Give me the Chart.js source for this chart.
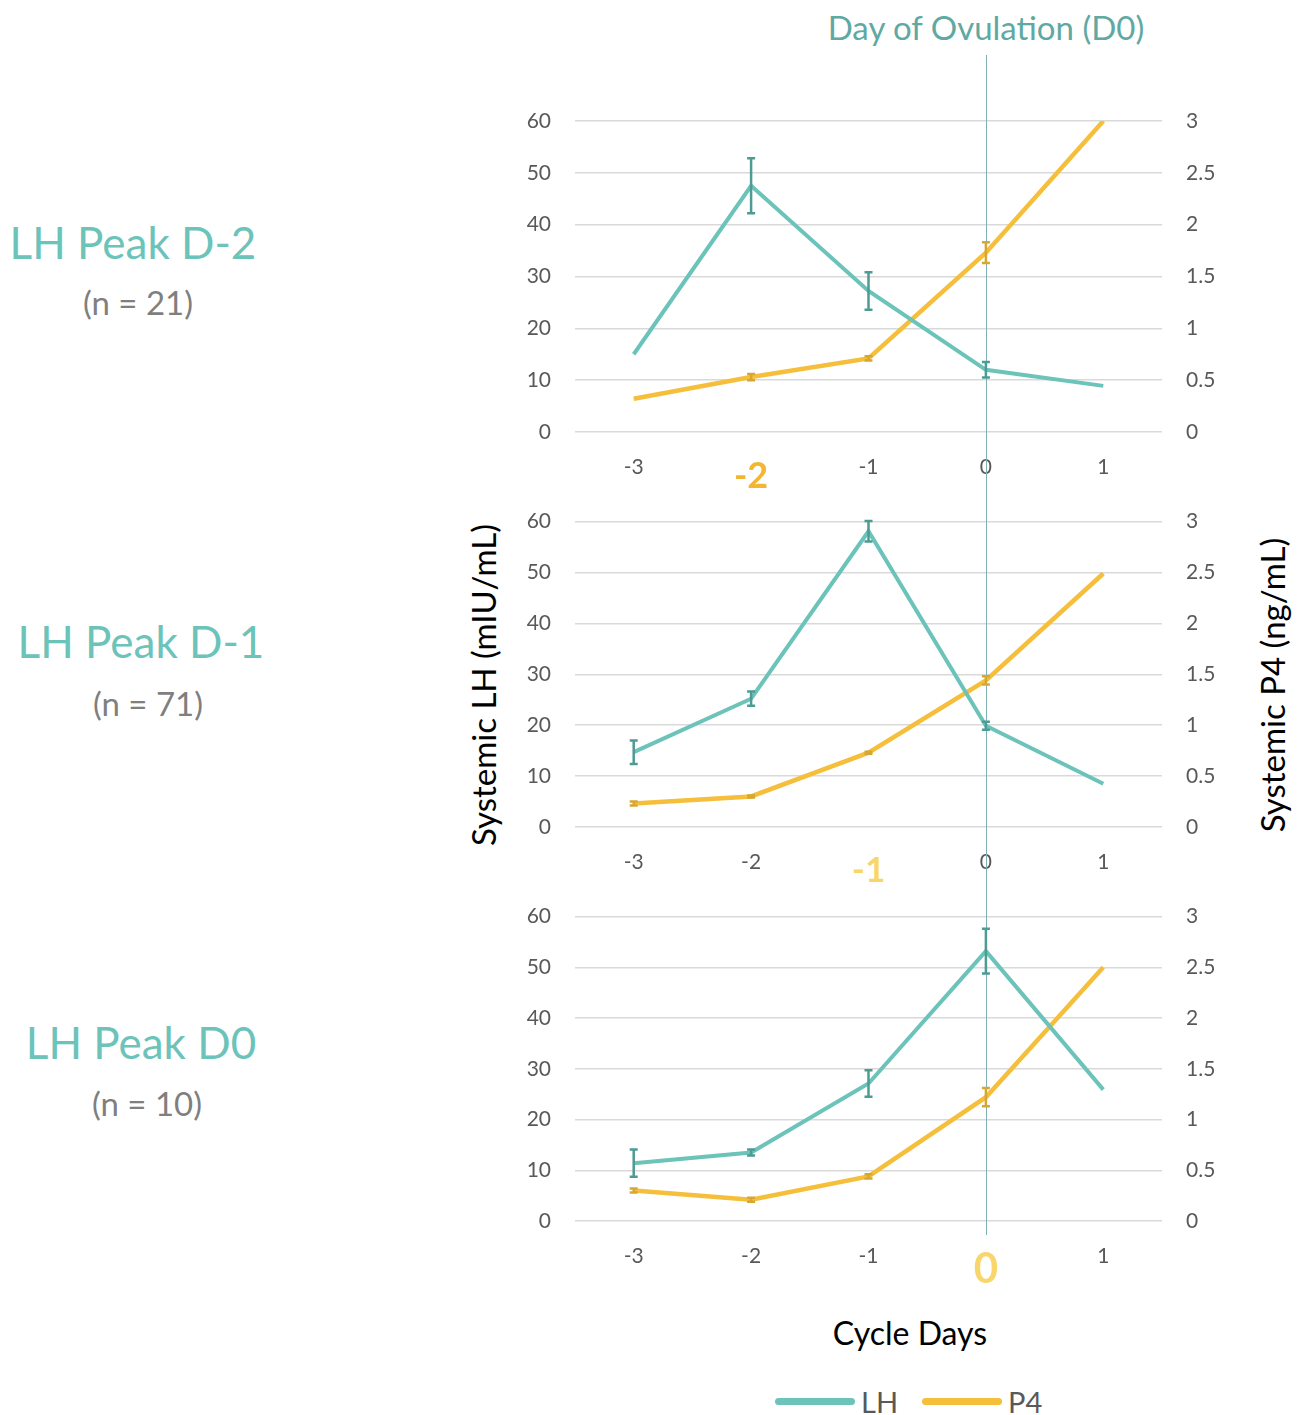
<!DOCTYPE html>
<html>
<head>
<meta charset="utf-8">
<script src="https://cdn.jsdelivr.net/npm/chart.js@4.4.1/dist/chart.umd.min.js"></script>
<style>
  body { margin: 0; background: #fff; font-family: Lato, "Open Sans", sans-serif; }
  #page { position: relative; width: 1298px; height: 1415px; overflow: hidden; }
  .box { position: absolute; left: 500px; width: 740px; }
  .lbl { position: absolute; white-space: nowrap; transform: translate(-50%, -50%); }
  .peak { font-size: 44px; color: #6cc3ba; }
  .n { font-size: 33px; color: #7f7f7f; }
  .rot { position: absolute; white-space: nowrap; font-size: 33px; color: #000;
         transform: translate(-50%, -50%) rotate(-90deg); }
  .leg { position: absolute; top: 1384px; font-size: 29px; color: #595959; display: flex; align-items: center; }
  .leg span.sw { display: inline-block; width: 80px; height: 7px; border-radius: 4px; margin-right: 6px; }
</style>
</head>
<body>
<div id="page">
  <div class="lbl" style="left:986px;top:27px;font-size:33px;color:#5fa9a2;">Day of Ovulation (D0)</div>

  <div class="lbl peak" style="left:133px;top:242px;">LH Peak D-2</div>
  <div class="lbl n" style="left:138px;top:302px;">(n = 21)</div>
  <div class="lbl peak" style="left:141px;top:641px;">LH Peak D-1</div>
  <div class="lbl n" style="left:148px;top:703px;">(n = 71)</div>
  <div class="lbl peak" style="left:141px;top:1042px;">LH Peak D0</div>
  <div class="lbl n" style="left:147px;top:1103px;">(n = 10)</div>

  <div class="rot" style="left:483px;top:685px;">Systemic LH (mIU/mL)</div>
  <div class="rot" style="left:1272px;top:685px;">Systemic P4 (ng/mL)</div>

  <div class="box" style="top:55px;height:450px;"><canvas id="c1" width="740" height="450"></canvas></div>
  <div class="box" style="top:485px;height:415px;"><canvas id="c2" width="740" height="415"></canvas></div>
  <div class="box" style="top:880px;height:420px;"><canvas id="c3" width="740" height="420"></canvas></div>

  <div class="lbl" style="left:910px;top:1332px;font-size:32px;color:#000;">Cycle Days</div>
  <div class="leg" style="left:775px;"><span class="sw" style="background:#6cc3ba"></span>LH</div>
  <div class="leg" style="left:922px;"><span class="sw" style="background:#f5bf3c"></span>P4</div>
</div>

<script>
// data
const days = ["-3", "-2", "-1", "0", "1"];

const lhD2 = [15, 47.5, 27.2, 12, 8.9];
const lhD2Err = [0, 5.3, 3.6, 1.5, 0];
const p4D2 = [0.32, 0.53, 0.71, 1.73, 3.0];
const p4D2Err = [0, 0.03, 0.02, 0.1, 0];

const lhD1 = [14.7, 25.2, 58.1, 19.9, 8.5];
const lhD1Err = [2.3, 1.4, 2, 0.8, 0];
const p4D1 = [0.23, 0.3, 0.73, 1.44, 2.49];
const p4D1Err = [0.02, 0.01, 0.01, 0.04, 0];

const lhD0 = [11.4, 13.5, 27.1, 53.2, 25.9];
const lhD0Err = [2.7, 0.6, 2.6, 4.4, 0];
const p4D0 = [0.3, 0.21, 0.44, 1.22, 2.5];
const p4D0Err = [0.02, 0.02, 0.02, 0.09, 0];

const LH_COLOR = "#6cc3ba";
const P4_COLOR = "#f5bf3c";
const FONT = "Lato";

// error bars drawn from each dataset's err array
const errorBars = {
    id: "errorBars",
    afterDatasetsDraw(chart) {
        const ctx = chart.ctx;
        chart.data.datasets.forEach((ds, di) => {
            if (!ds.err) return;
            const meta = chart.getDatasetMeta(di);
            const scale = chart.scales[ds.yAxisID];
            ctx.save();
            ctx.strokeStyle = ds.errColor;
            ctx.lineWidth = 2.5;
            meta.data.forEach((pt, i) => {
                const e = ds.err[i];
                if (!e) return;
                const top = scale.getPixelForValue(ds.data[i] + e);
                const bot = scale.getPixelForValue(ds.data[i] - e);
                ctx.beginPath();
                ctx.moveTo(pt.x, top); ctx.lineTo(pt.x, bot);
                ctx.moveTo(pt.x - 4, top); ctx.lineTo(pt.x + 4, top);
                ctx.moveTo(pt.x - 4, bot); ctx.lineTo(pt.x + 4, bot);
                ctx.stroke();
            });
            ctx.restore();
        });
    },
};

// vertical day-0 line
const ovulationLine = {
    id: "ovulationLine",
    beforeDatasetsDraw(chart, args, opts) {
        const ctx = chart.ctx;
        const x = Math.round(chart.scales.x.getPixelForValue(3)) + 0.5;
        const bottom = opts.toAxis ? chart.chartArea.bottom + 14 : chart.height;
        ctx.save();
        ctx.strokeStyle = "#7fb0b5";
        ctx.lineWidth = 1;
        ctx.beginPath();
        ctx.moveTo(x, 0);
        ctx.lineTo(x, bottom);
        ctx.stroke();
        ctx.restore();
    },
};

function makeChart(id, lh, lhErr, p4, p4Err, hiIndex, hiColor, hiSize, padTop, xHeight, toAxis) {
    return new Chart(document.getElementById(id), {
        type: "line",
        data: {
            labels: days,
            datasets: [
            {
                label: "LH",
                data: lh,
                err: lhErr,
                errColor: "#4d9b92",
                borderColor: LH_COLOR,
                borderWidth: 4,
                pointRadius: 0,
                yAxisID: "y",
                tension: 0,
            },
            {
                label: "P4",
                data: p4,
                err: p4Err,
                errColor: "#d6a733",
                borderColor: P4_COLOR,
                borderWidth: 4.5,
                pointRadius: 0,
                yAxisID: "y1",
                tension: 0,
            },
            ],
        },
        options: {
            responsive: false,
            animation: false,
            layout: { padding: { top: padTop, bottom: 0, left: 0, right: 0 } },
            scales: {
            x: {
                offset: true,
                grid: { display: false },
                border: { display: false },
                afterFit: (s) => { s.height = xHeight; },
                ticks: {
                    padding: 15,
                    color: (c) => c.index === hiIndex ? hiColor : "#595959",
                    font: (c) => c.index === hiIndex
                        ? { family: FONT, size: hiSize, weight: "bold" }
                        : { family: FONT, size: 21 },
                },
            },
            y: {
                position: "left",
                min: 0,
                max: 60,
                border: { display: false },
                grid: { color: "#d9d9d9", lineWidth: 1.5, drawTicks: false },
                afterFit: (s) => { s.width = 75; },
                ticks: { stepSize: 10, padding: 24, color: "#595959", font: { family: FONT, size: 21 } },
            },
            y1: {
                position: "right",
                min: 0,
                max: 3,
                border: { display: false },
                grid: { display: false, drawTicks: false },
                afterFit: (s) => { s.width = 78; },
                ticks: {
                    stepSize: 0.5,
                    padding: 24,
                    color: "#595959",
                    font: { family: FONT, size: 21 },
                    callback: (v) => String(v),
                },
            },
            },
            plugins: {
            legend: { display: false },
            tooltip: { enabled: false },
            ovulationLine: { toAxis: toAxis },
            },
        },
        plugins: [ovulationLine, errorBars],
    });
}

makeChart("c1", lhD2, lhD2Err, p4D2, p4D2Err, 1, "#f2b632", 36, 66, 73, false);
makeChart("c2", lhD1, lhD1Err, p4D1, p4D1Err, 2, "#f8d66c", 35, 32, 73, false);
makeChart("c3", lhD0, lhD0Err, p4D0, p4D0Err, 3, "#f8d66c", 42, 31, 79, true);
</script>
</body>
</html>
